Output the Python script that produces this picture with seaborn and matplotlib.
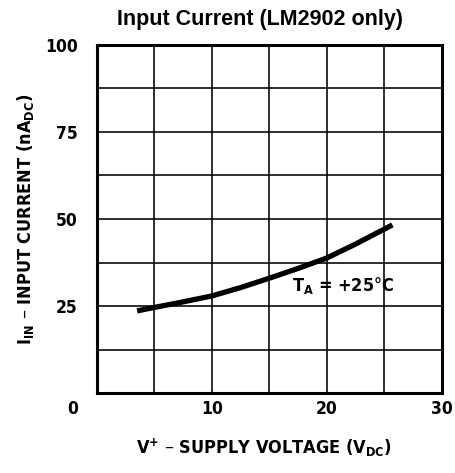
import matplotlib
matplotlib.use("Agg")
import matplotlib.pyplot as plt
import pandas as pd
import seaborn as sns

# values
supply_v = [3.5, 5, 7.5, 10, 12.5, 15, 17.5, 20, 22.5, 25.7]
input_na = [23.6, 24.6, 26.2, 27.9, 30.3, 33.0, 35.8, 38.8, 42.8, 48.3]
x_ticks = [10, 20, 30]
x_minor = [5, 15, 25]
y_ticks = [25, 50, 75, 100]
y_minor = [12.5, 37.5, 62.5, 87.5]

sns.set_theme(style="white")
plt.rcParams["font.family"] = ["DejaVu Sans"]
plt.rcParams["font.stretch"] = "condensed"
plt.rcParams["font.weight"] = "bold"
for key in ["text.color", "axes.labelcolor", "xtick.color", "ytick.color"]:
    plt.rcParams[key] = "black"

df = pd.DataFrame({"v": supply_v, "i": input_na})

fig = plt.figure(figsize=(4.55, 4.73), dpi=100)
ax = fig.add_axes([0.213, 0.169, 0.758, 0.736])

sns.lineplot(data=df, x="v", y="i", color="black", linewidth=3.8, ax=ax,
             solid_capstyle="butt")

ax.set_xlim(0, 30)
ax.set_ylim(0, 100)
ax.set_xticks(x_ticks)
ax.set_xticks(x_minor, minor=True)
ax.set_yticks(y_ticks)
ax.set_yticks(y_minor, minor=True)
ax.grid(True, which="both", color="black", linewidth=1.15)
ax.tick_params(which="both", length=0)
ax.tick_params(axis="x", pad=5, labelsize=12.5)
ax.tick_params(axis="y", pad=14, labelsize=12.5)
for s in ax.spines.values():
    s.set_color("black")
    s.set_linewidth(2.2)

# shared origin label sits off the corner
ax.annotate("0", xy=(0, 0), xycoords="data", xytext=(-19, -7),
            textcoords="offset pixels", ha="right", va="top",
            fontsize=12.5, fontweight="bold")

ax.text(21.4, 31, r"T$_\mathregular{A}$ = +25°C", ha="center", va="center",
        fontsize=13, fontweight="bold")

ax.set_xlabel(r"V$^\mathregular{+}$ – SUPPLY VOLTAGE (V$_\mathregular{DC}$)",
              fontsize=13, fontweight="bold", labelpad=12)
ax.xaxis.set_label_coords(0.485, -0.125)
ax.set_ylabel(r"I$_\mathregular{IN}$ – INPUT CURRENT (nA$_\mathregular{DC}$)",
              fontsize=13, fontweight="bold", labelpad=6)

fig.text(0.572, 0.958, "Input Current (LM2902 only)", ha="center", va="center",
         fontsize=15.5, fontweight="bold", family="Liberation Sans",
         fontstretch="normal")

fig.savefig("out.png", dpi=100)
plt.close(fig)
